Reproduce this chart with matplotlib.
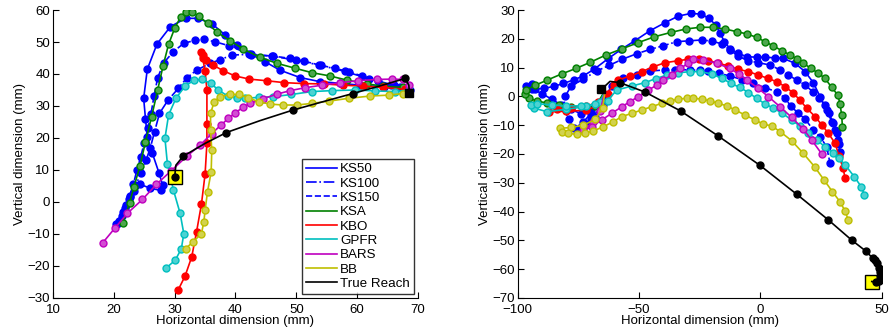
import matplotlib
matplotlib.use("Agg")
import matplotlib.pyplot as plt
from matplotlib.lines import Line2D

plt.rcParams['font.family'] = ['Liberation Sans', 'DejaVu Sans']
plt.rcParams['font.size'] = 9

# ---------------- left panel data (mm) ----------------
l_ks50_x = [20.5, 21.3, 22.0, 22.7, 23.3, 24.3, 26.0, 27.7, 28.0, 27.4, 26.3, 25.5, 25.2, 24.9, 25.5, 27.1,
            29.3, 31.8, 33.9, 36.2, 38.3, 40.2, 42.3, 44.9, 47.3, 50.6, 53.9, 57.2, 60.5, 64.4, 67.1, 68.7]
l_ks50_y = [-7.0, -4.5, -1.0, 1.5, 3.5, 5.5, 4.3, 3.6, 5.4, 9.2, 15.4, 20.4, 26.0, 32.4, 41.5, 49.4,
            54.8, 57.4, 57.4, 55.6, 52.2, 49.0, 46.4, 43.8, 41.2, 38.9, 37.6, 37.1, 36.5, 36.0, 35.8, 35.0]

l_ks100_x = [20.3, 21.5, 22.5, 23.5, 24.5, 25.3, 26.0, 26.7, 27.5, 28.9, 30.6, 32.0, 33.6, 35.8, 37.5,
             39.4, 42.5, 46.0, 50.0, 54.0, 58.0, 62.0, 65.5, 68.3]
l_ks100_y = [-7.0, -3.0, 1.0, 5.0, 9.0, 13.0, 17.0, 22.0, 27.7, 31.8, 35.5, 38.8, 41.2, 43.3, 44.5,
             45.9, 46.2, 45.6, 44.3, 42.7, 40.8, 38.5, 36.5, 35.3]

l_ks150_x = [20.8, 21.8, 22.6, 23.2, 23.8, 24.4, 25.0, 25.6, 26.1, 26.6, 27.2, 28.2, 29.8, 31.5, 33.3,
             34.8, 36.6, 39.0, 42.5, 46.2, 48.9, 51.3, 53.8, 56.3, 58.6, 60.8, 63.5, 66.0, 68.0]
l_ks150_y = [-6.0, -2.0, 2.0, 5.5, 10.0, 14.0, 18.5, 23.0, 27.5, 33.0, 38.8, 43.5, 47.0, 49.6, 50.5,
             50.8, 50.1, 48.8, 46.0, 45.6, 44.9, 44.0, 42.8, 41.8, 40.7, 39.4, 37.8, 36.5, 35.5]

l_ksa_x = [21.5, 22.6, 23.3, 24.3, 25.2, 26.2, 27.2, 28.1, 29.0, 30.0, 31.0, 31.8, 32.8, 34.0, 35.4,
           37.0, 39.1, 41.3, 44.0, 46.9, 49.8, 52.6, 55.5, 58.3, 61.6, 64.3, 67.6]
l_ksa_y = [-6.5, -0.2, 4.7, 11.3, 18.8, 26.6, 35.0, 42.6, 49.3, 54.3, 57.9, 59.3, 59.3, 58.1, 55.8,
           53.0, 50.4, 47.8, 45.2, 43.3, 41.8, 40.4, 39.4, 38.1, 36.9, 36.2, 35.8]

l_kbo_x = [30.6, 31.7, 32.8, 33.6, 34.4, 35.0, 35.3, 35.3, 35.3, 35.0, 34.6, 34.4, 34.6, 35.2, 36.3,
           38.0, 39.9, 42.3, 45.1, 48.0, 51.2, 54.5, 57.7, 61.0, 64.3, 67.9]
l_kbo_y = [-27.4, -23.2, -17.2, -9.3, -0.7, 8.7, 18.3, 24.5, 35.0, 40.9, 45.0, 46.8, 46.0, 44.4, 42.8,
           41.0, 39.4, 38.4, 37.9, 37.3, 37.0, 36.9, 36.5, 36.2, 35.8, 35.2]

l_gpfr_x = [28.5, 30.1, 31.1, 31.5, 30.9, 29.8, 28.8, 28.4, 29.0, 30.2, 31.7, 33.2, 34.5, 35.9, 37.2,
            38.7, 40.2, 41.6, 43.8, 46.2, 49.2, 52.5, 55.8, 59.7, 63.0, 66.3, 68.5]
l_gpfr_y = [-20.8, -18.2, -14.6, -9.9, -3.6, 3.7, 12.0, 19.9, 27.2, 32.4, 36.2, 38.1, 38.3, 37.1, 35.0,
            33.1, 32.4, 32.4, 32.7, 32.9, 33.6, 34.5, 34.8, 35.0, 34.7, 34.5, 35.0]

l_bars_x = [18.2, 20.2, 22.2, 24.7, 27.0, 29.4, 32.0, 34.2, 36.1, 37.6, 38.8, 39.9, 41.2, 42.4, 44.6,
            46.8, 49.0, 51.4, 54.2, 57.2, 60.2, 63.2, 65.7, 67.6, 68.6]
l_bars_y = [-12.7, -8.1, -3.6, 0.8, 5.5, 9.7, 14.3, 17.8, 21.4, 24.0, 26.1, 27.7, 29.6, 30.8, 32.3,
            33.7, 34.8, 35.7, 36.5, 37.3, 37.9, 38.3, 38.4, 38.3, 36.5]

l_bb_x = [31.8, 33.0, 34.4, 34.8, 35.0, 35.4, 36.0, 36.1, 35.9, 35.9, 36.5, 37.4, 39.1, 40.6, 42.1,
          43.8, 45.7, 47.8, 50.1, 52.5, 55.3, 58.6, 62.1, 65.2, 67.6]
l_bb_y = [-14.6, -12.5, -9.9, -6.2, -2.6, 3.2, 9.4, 16.2, 22.5, 27.7, 31.3, 32.9, 33.6, 33.6, 32.6,
          31.3, 30.6, 30.3, 30.3, 30.8, 31.5, 32.4, 33.1, 33.4, 33.9]

l_true_x = [30.0, 30.2, 31.4, 35.0, 38.5, 44.0, 49.4, 54.5, 59.3, 63.8, 67.9, 68.5, 68.6]
l_true_y = [7.9, 11.5, 14.3, 18.3, 21.7, 25.4, 28.7, 31.4, 33.9, 36.3, 38.6, 36.5, 34.0]

# ---------------- right panel data (mm) ----------------
r_ks50_x = [-64, -66, -70, -74, -78, -82, -86, -90, -94, -96.5, -94, -92.9, -89, -85, -81.2, -77, -73,
            -68.4, -62.6, -57.4, -51.6, -45.5, -39.3, -33.8, -28.7, -24.5, -21.2, -18.4, -16.6, -14.8,
            -12.5, -9.3, -5.6, -1.5, 1.9, 6.0, 9.4, 14.3, 18.4, 21.8, 24.6, 27.3, 29.4, 30.7, 32.1, 32.8]
r_ks50_y = [2, -3, -5, -6, -4.5, -3, -1, 1, 2.5, 3.7, 4.3, 2.6, 2.8, 3.5, 4.5, 5.7, 7.1,
            9.5, 13.2, 16.3, 19.4, 22.8, 25.6, 27.9, 28.8, 28.6, 27.1, 24.8, 21.9, 19.0,
            16.5, 15.0, 13.8, 13.6, 13.6, 13.4, 13.2, 11.5, 8.6, 4.8, -0.1, -4.7, -8.8, -11.7, -15.1, -19.2]

r_ks100_x = [-64, -66, -70, -74, -77, -79, -81, -80.5, -78, -73, -67.5, -62.2, -56.9, -51, -45.5, -40,
             -34.5, -29.4, -24.2, -20, -15.7, -12.5, -9.1, -5.2, -0.8, 4.0, 8.1, 11.5, 15.0, 18.4, 21.6,
             24.3, 26.6, 28.4, 30.0, 31.7, 32.4]
r_ks100_y = [2, -4, -8, -10.5, -11, -8, -4, 0, 3.5, 6, 8.8, 10.8, 12.9, 14.8, 16.3, 17.6,
             19.0, 19.3, 19.6, 19.2, 18.2, 16.1, 14.0, 12.4, 11.7, 10.9, 9.2, 7.4, 5.7, 4.0, 1.6,
             -0.7, -3.0, -5.9, -9.4, -12.8, -16.5]

r_ks150_x = [-64, -65, -68, -72, -75, -73, -70, -67, -64, -61.3, -56.5, -51, -45.5, -39.3, -35, -29, -25,
             -21.5, -17, -12.5, -7.5, -2.9, 2.0, 6.7, 10.0, 12.5, 15.6, 18.4, 21.8, 24.6, 27.3, 28.7]
r_ks150_y = [2, -3, -7, -10, -11.5, -9, -6, -3, 0, 3.5, 6.5, 7.6, 8.8, 9.2, 9.3, 9.2, 9.0,
             8.9, 8.0, 7.1, 5.8, 4.5, 3.0, 1.6, -0.5, -3.3, -5.9, -7.8, -11.7, -14.0, -17.5, -23.2]

r_ksa_x = [-64, -68, -73, -78, -83, -88, -92, -95.5, -97, -96.5, -93, -88, -81.9, -76, -70.2, -63.6,
           -57.1, -50.3, -43.7, -37, -30.8, -24.9, -19.4, -14.6, -9.8, -5.6, -1.5, 1.9, 5.4, 8.8, 12.2,
           15.0, 17.7, 20.9, 23.6, 26.6, 29.4, 31.9, 32.8, 33.5, 33.8]
r_ksa_y = [2, -3.5, -3.8, -3.6, -3, -2.3, -1.6, -0.5, 0.8, 2.3, 3.8, 5.6, 7.8, 9.7, 11.8, 14.4,
           16.5, 18.7, 20.7, 22.2, 23.4, 24.0, 24.0, 23.4, 22.5, 21.7, 20.5, 19.0, 17.5, 15.9, 14.4,
           13.0, 11.5, 9.7, 8.2, 6.3, 3.1, 0.5, -2.6, -6.5, -10.5]

r_kbo_x = [-64, -66, -72, -80, -87, -84, -78, -72, -67, -63, -60.5, -58.5, -53.7, -48.9, -44.1, -39.3,
           -33.8, -29.7, -25.5, -21.4, -17.3, -13.2, -9.1, -4.9, -0.8, 3.0, 6.7, 10.2, 13.6, 16.3, 19.1,
           22.5, 25.3, 28.0, 30.8, 32.4, 34.1, 34.9]
r_kbo_y = [2, -3, -4.8, -5.2, -5.3, -4.5, -4, -3.5, -2, 1, 4, 5.7, 7.1, 8.6, 10.3, 11.7,
           12.4, 12.9, 12.9, 12.4, 11.5, 10.6, 9.4, 8.6, 7.4, 6.3, 5.1, 3.4, 1.1, -1.3, -4.1,
           -7.0, -9.9, -12.8, -16.3, -20.7, -25.0, -28.4]

r_gpfr_x = [-64, -66, -72, -80, -88, -93.1, -94.5, -92, -86, -80, -74, -68, -63, -59.2, -53, -47.5, -43,
            -38.6, -33.8, -29, -24.9, -20, -15.9, -12.1, -8.4, -4.9, -1.5, 1.9, 5.4, 9.1, 12.9, 16.3,
            19.8, 23.2, 26.6, 30.1, 32.5, 34.9, 38.7, 41.5, 42.9]
r_gpfr_y = [2, -2, -3.5, -4.5, -5.3, -4.1, -3, -2.5, -3, -3.3, -3.3, -2.8, -1.5, 2.2, 3.6, 4.8, 6.2,
            7.4, 8.2, 8.6, 8.6, 7.8, 6.3, 4.5, 3.1, 1.3, -0.7, -2.6, -4.1, -5.9, -8.2, -10.3,
            -12.8, -15.1, -17.5, -19.8, -21.5, -23.8, -27.9, -31.3, -34.2]

r_bars_x = [-64, -66, -69, -73, -69.5, -65.4, -61.3, -57.1, -53.7, -50.3, -46.2, -42.7, -40, -36.5,
            -33.1, -29.7, -27.6, -23.5, -18, -12.5, -9.0, -5.6, -0.9, 3.3, 8.1, 12.9, 17.7, 21.1, 25.3]
r_bars_y = [2, -5, -9, -11.7, -10.5, -8.2, -5.9, -3.6, -1.8, -0.1, 2.2, 3.9, 5.7, 7.4,
            9.7, 11.5, 12.9, 12.6, 11.5, 9.7, 7.8, 5.7, 2.8, -0.1, -3.6, -7.3, -11.4, -15.1, -20.0]

r_bb_x = [-64, -65, -68, -73, -78, -82.6, -81.9, -79.1, -75.7, -72.3, -68.8, -64.7, -60.6, -57.1, -53,
          -48.9, -44.8, -40.7, -37.2, -33.8, -30.4, -27.6, -24.2, -20.7, -17.3, -13.9, -10.4, -6.3,
          -2.2, 1.2, 4.7, 8.1, 12.9, 17.7, 22.3, 26.2, 29.7, 32.8, 34.9, 36.2]
r_bb_y = [2, -4, -8, -10, -10.8, -11.1, -12.2, -12.8, -13.2, -12.8, -12, -10.5, -8.8, -7, -5.9,
          -4.7, -3.6, -2.4, -1.6, -0.9, -0.7, -0.7, -0.9, -1.6, -2.4, -3.3, -4.7, -6.5,
          -8.2, -9.6, -10.3, -12.2, -15.4, -19.8, -24.4, -29.0, -33.1, -36.6, -39.8, -42.9]

r_true_x = [45.9, 47.5, 48.8, 49.3, 49.2, 48.8, 48.0, 47.2, 46.3, 43.4, 37.6, 28.0, 15.0, -0.1, -17.3,
            -32.8, -47.5, -58.0, -62.0, -63.5, -65.5]
r_true_y = [-64.3, -64.5, -64.0, -62.5, -61.0, -59.5, -58.0, -57.0, -56.2, -53.7, -49.9, -42.9, -34.0,
            -24.0, -13.8, -5.1, 1.5, 4.8, 5.2, 4.0, 2.5]

labels = ['KS50', 'KS100', 'KS150', 'KSA', 'KBO', 'GPFR', 'BARS', 'BB', 'True Reach']
BLUE, GREEN, RED = (0, 0, 1), (0, 0.5, 0), (1, 0, 0)
CYAN, MAG, YEL = (0, 0.75, 0.75), (0.75, 0, 0.75), (0.75, 0.75, 0)


def light(c, f=0.3):
    return tuple(v + (1 - v) * f for v in c)


styles = [
    (BLUE, '-', BLUE), (BLUE, '-.', BLUE), (BLUE, '--', BLUE),
    (GREEN, '-', light(GREEN)), (RED, '-', RED), (CYAN, '-', light(CYAN)),
    (MAG, '-', light(MAG)), (YEL, '-', light(YEL)),
]

fig = plt.figure(figsize=(8.9, 3.34), dpi=100)
ax1 = fig.add_axes([0.0596, 0.108, 0.410, 0.862])
ax2 = fig.add_axes([0.5817, 0.108, 0.409, 0.862])

left_series = [(l_ks50_x, l_ks50_y), (l_ks100_x, l_ks100_y), (l_ks150_x, l_ks150_y),
               (l_ksa_x, l_ksa_y), (l_kbo_x, l_kbo_y), (l_gpfr_x, l_gpfr_y),
               (l_bars_x, l_bars_y), (l_bb_x, l_bb_y)]
right_series = [(r_ks50_x, r_ks50_y), (r_ks100_x, r_ks100_y), (r_ks150_x, r_ks150_y),
                (r_ksa_x, r_ksa_y), (r_kbo_x, r_kbo_y), (r_gpfr_x, r_gpfr_y),
                (r_bars_x, r_bars_y), (r_bb_x, r_bb_y)]

for (x, y), (c, ls, fc) in zip(left_series, styles):
    ax1.plot(x, y, color=c, ls=ls, lw=1.2, marker='o', ms=5, mfc=fc, mec=c, mew=1.0)
for (x, y), (c, ls, fc) in zip(right_series, styles):
    ax2.plot(x, y, color=c, ls=ls, lw=1.2, marker='o', ms=5, mfc=fc, mec=c, mew=1.0,
             markevery=slice(1, None))

# true reach: start square, path, end square
ax1.plot(l_true_x[0], l_true_y[0], 's', ms=10, mfc=(1, 1, 0), mec='k', mew=1.0)
ax1.plot(l_true_x, l_true_y, 'k-', lw=1.2, marker='o', ms=5, mfc='k', mec='k',
         markevery=[0, 2, 4, 6, 8, 10])
ax1.plot(l_true_x[-1], l_true_y[-1], 'ks', ms=5.5)

ax2.plot(r_true_x[0], r_true_y[0], 's', ms=10, mfc=(1, 1, 0), mec='k', mew=1.0)
ax2.plot(r_true_x, r_true_y, 'k-', lw=1.2, marker='o', ms=5, mfc='k', mec='k',
         markevery=list(range(1, 18)))
ax2.plot(r_true_x[-1], r_true_y[-1], 'ks', ms=5.5)

for ax in (ax1, ax2):
    ax.spines['top'].set_visible(False)
    ax.spines['right'].set_visible(False)
    ax.tick_params(direction='in', length=4, width=0.8, labelsize=9.5)
    ax.tick_params(axis='x', pad=4.5)
    ax.tick_params(axis='y', pad=2)
    ax.set_xlabel('Horizontal dimension (mm)', fontsize=9.5, labelpad=-1)
    ax.set_ylabel('Vertical dimension (mm)', fontsize=9.5, labelpad=1)

ax1.set_xlim(10, 70)
ax1.set_ylim(-30, 60)
ax1.set_xticks(range(10, 71, 10))
ax1.set_yticks(range(-30, 61, 10))

ax2.set_xlim(-100, 50)
ax2.set_ylim(-70, 30)
ax2.set_xticks([-100, -50, 0, 50])
ax2.set_yticks(range(-70, 31, 10))

handles = [Line2D([], [], color=c, ls=ls, lw=1.2) for c, ls, _ in styles]
handles.append(Line2D([], [], color='k', lw=1.2))
leg = ax1.legend(handles, labels, loc='lower right', fontsize=9.6, frameon=True, fancybox=False,
                 borderaxespad=0.3, handlelength=2.3, handletextpad=0.25, labelspacing=0.15,
                 borderpad=0.3)
leg.get_frame().set_edgecolor('k')
leg.get_frame().set_linewidth(1.0)

fig.savefig('out.png', dpi=100)
